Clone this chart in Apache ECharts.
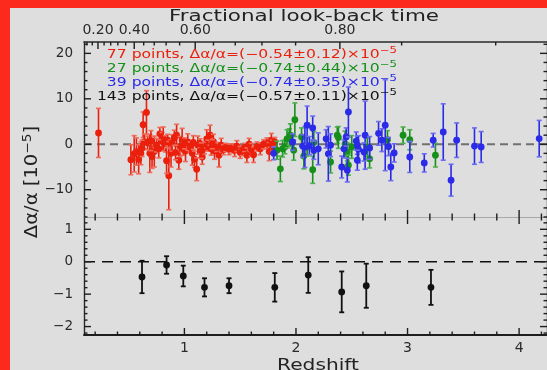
<!DOCTYPE html>
<html><head><meta charset="utf-8">
<script src="https://cdn.jsdelivr.net/npm/echarts@6/dist/echarts.min.js"></script>
<style>html,body{margin:0;padding:0;background:#dedede;}#c{width:547px;height:370px;}</style>
</head><body><div id="c"></div>
<script>
// ---- data: [redshift, Δα/α (1e-5), 1σ error] ----
const redData = [
 [0.23,2.5,5.4],[0.52,-3.4,3.3],[0.55,-2.1,4.0],[0.57,-1.6,3.0],[0.59,-3.3,3.2],[0.61,-2.0,2.5],
 [0.63,4.3,2.8],[0.66,7.0,4.8],[0.64,0.6,1.6],[0.67,0.3,1.5],[0.69,-2.0,4.2],[0.71,-2.7,2.6],
 [0.73,-1.6,3.4],[0.75,-0.2,1.5],[0.78,2.3,1.4],[0.80,0.6,2.0],[0.81,1.2,2.6],[0.83,0.1,1.8],
 [0.85,0.9,1.3],[0.86,-6.9,7.5],[0.88,-2.0,3.0],[0.89,0.3,1.8],[0.91,1.4,1.7],[0.93,2.0,2.4],
 [0.95,-3.5,2.0],[0.96,-0.5,2.2],[0.98,0.9,2.6],[0.99,-1.0,1.4],[1.01,-1.5,2.3],[1.03,0.5,1.8],
 [1.05,-0.6,1.1],[1.07,-2.0,2.6],[1.09,-3.3,1.8],[1.11,-5.5,2.5],[1.12,-0.2,2.0],[1.14,0.2,1.0],
 [1.16,-2.8,1.6],[1.18,-0.8,1.3],[1.20,1.2,2.0],[1.21,-0.3,1.2],[1.23,2.0,2.2],[1.24,-1.0,1.4],
 [1.26,0.6,1.6],[1.27,-1.5,1.8],[1.29,-0.6,1.0],[1.31,-2.4,2.6],[1.33,-0.2,1.5],[1.35,-1.2,1.1],
 [1.37,-0.7,0.9],[1.40,-1.1,1.2],[1.42,-0.9,1.0],[1.45,-1.3,1.4],[1.47,-0.4,1.2],[1.50,-1.8,1.3],
 [1.52,-1.4,1.1],[1.54,-0.7,0.9],[1.56,-2.4,1.6],[1.58,0.0,1.3],[1.60,-1.2,1.4],[1.62,-2.3,1.7],
 [1.65,-0.5,1.0],[1.68,-1.0,1.3],[1.71,0.0,1.0],[1.74,0.2,1.2],[1.76,-1.6,2.0],[1.78,0.9,1.5],
 [1.79,-0.3,1.2],[1.81,0.5,1.0],[0.62,-0.9,1.8],[0.70,0.8,2.2],[0.77,-1.0,2.0],[0.84,-3.6,2.8],
 [0.92,-1.8,1.6],[1.00,0.2,1.2],[1.08,0.4,1.5],[1.15,-1.4,1.7],[1.25,0.0,1.0]
];
const greenData = [
 [1.83,-1.3,2.0],[1.86,-5.4,2.8],[1.88,-1.0,1.8],[1.90,-0.6,1.5],[1.92,1.2,2.0],[1.94,1.6,1.8],
 [1.95,2.0,2.5],[1.99,5.4,3.7],[1.98,-1.3,2.2],[2.05,1.6,2.0],[2.07,-2.6,2.8],[2.10,-0.6,2.0],
 [2.15,-5.6,3.0],[2.16,0.4,2.4],[2.31,-3.9,2.4],[2.37,2.0,1.8],[2.38,1.5,2.4],[2.44,0.1,2.8],
 [2.46,-1.7,2.0],[2.47,-4.6,2.2],[2.50,-0.6,2.5],[2.64,-0.6,2.0],[2.66,-3.2,2.0],[2.82,1.0,2.0],
 [2.96,2.0,1.8],[3.02,1.0,2.2],[3.25,-2.4,2.6]
];
const blueData = [
 [1.80,-2.0,1.4],[1.97,0.5,1.8],[2.06,-0.4,2.5],[2.08,-0.6,4.5],[2.10,4.2,4.2],[2.12,-0.3,2.0],
 [2.15,3.6,2.6],[2.16,-1.3,2.0],[2.27,1.2,2.0],[2.29,-2.1,6.0],[2.31,-0.2,2.5],[2.41,-5.0,2.4],
 [2.43,-1.0,2.0],[2.45,1.6,2.0],[2.46,-5.7,2.6],[2.47,7.1,5.5],[2.54,0.7,2.0],[2.55,-0.2,2.0],
 [2.56,-1.1,3.0],[2.55,-3.5,2.2],[2.62,2.0,7.5],[2.61,-1.7,2.0],[2.74,2.4,2.6],[2.77,0.9,2.5],
 [2.80,4.2,10.0],[2.83,-0.5,2.0],[2.85,-5.0,3.0],[2.88,-1.9,2.0],[3.02,-2.8,3.4],[3.15,-4.1,2.0],
 [3.23,0.9,1.5],[3.32,2.7,6.2],[3.39,-7.9,3.5],[3.44,0.9,3.8],[3.60,-0.4,4.0],[3.66,-0.6,3.4],
 [4.18,1.25,4.0],[2.20,-1.0,3.5],[2.66,-0.8,2.5]
];
const binnedData = [
 [0.62,-0.47,0.5],[0.84,-0.10,0.27],[0.99,-0.44,0.32],[1.18,-0.79,0.28],[1.40,-0.74,0.23],
 [1.81,-0.79,0.44],[2.11,-0.41,0.55],[2.41,-0.93,0.63],[2.63,-0.74,0.68],[3.21,-0.79,0.54]
];
const legendLines = [
 {n:'77',  v:'−0.54±0.12', color:'#ea1f0c'},
 {n:'27',  v:'−0.74±0.44', color:'#16901a'},
 {n:'39',  v:'−0.74±0.35', color:'#2a2ae8'},
 {n:'143', v:'−0.57±0.11', color:'#111111'}
];
// ---- axes / ticks ----
const X_MIN = 0.1, X_MAX = 4.25;
const TOP_Y = [-16, 22.5], BOT_Y = [-2.26, 1.38];
const xMinorTicks = [0.2,0.4,0.6,0.8,1.2,1.4,1.6,1.8,2.2,2.4,2.6,2.8,3.2,3.4,3.6,3.8,4.2];
const xMajorTicks = [1,2,3,4];
const yTopMinor = [-16,-14,-12,-8,-6,-4,-2,2,4,6,8,12,14,16,18,22];
const yTopMajor = [-10,0,10,20];
const yBotMinor = [-2.2,-1.8,-1.6,-1.4,-1.2,-0.8,-0.6,-0.4,-0.2,0.2,0.4,0.6,0.8,1.2];
const yBotMajor = [-2,-1,0,1];
const lookbackMinor = [0.12,0.16,0.24,0.28,0.32,0.36,0.44,0.48,0.52,0.56,0.64,0.68,0.72,0.76,0.84,0.88];
const lookbackMajor = [0.20,0.40,0.60,0.80];
const lookbackLabels = ['0.20','0.40','0.60','0.80'];
const OM = 0.3, OL = 0.7;
function zFromLookback(f){
  const k = Math.sqrt(OL/OM);
  const A = Math.asinh(k)*(1-f);
  return Math.pow(Math.sinh(A)/k, -2/3) - 1;
}
const lbMinorZ = lookbackMinor.map(zFromLookback);
const lbMajorZ = lookbackMajor.map(zFromLookback);

const MINOR = 3.5, MAJOR = 7;
function ticks(code, vals, len){ return vals.map(v => [code, v, len]); }
const topTickData = [].concat(
  ticks(0,yTopMinor,MINOR), ticks(0,yTopMajor,MAJOR),
  ticks(1,yTopMinor,MINOR), ticks(1,yTopMajor,MAJOR),
  ticks(2,xMinorTicks,MINOR), ticks(2,xMajorTicks,MAJOR),
  ticks(3,lbMinorZ,MINOR), ticks(3,lbMajorZ,MAJOR));
const botTickData = [].concat(
  ticks(0,yBotMinor,MINOR), ticks(0,yBotMajor,MAJOR),
  ticks(1,yBotMinor,MINOR), ticks(1,yBotMajor,MAJOR),
  ticks(2,xMinorTicks,MINOR), ticks(2,xMajorTicks,MAJOR),
  ticks(3,xMinorTicks,MINOR), ticks(3,xMajorTicks,MAJOR));

function tickRenderer(yr){
  return function(params, api){
    const code = api.value(0), v = api.value(1), L = api.value(2);
    let p, s;
    if (code === 0){ p = api.coord([X_MIN, v]); s = {x1:p[0], y1:p[1], x2:p[0]+L, y2:p[1]}; }
    else if (code === 1){ p = api.coord([X_MAX, v]); s = {x1:p[0], y1:p[1], x2:p[0]-L, y2:p[1]}; }
    else if (code === 2){ p = api.coord([v, yr[0]]); s = {x1:p[0], y1:p[1], x2:p[0], y2:p[1]-L}; }
    else { p = api.coord([v, yr[1]]); s = {x1:p[0], y1:p[1], x2:p[0], y2:p[1]+L}; }
    return {type:'line', shape:s, style:{stroke:'#1e1e1e', lineWidth:1.4}};
  };
}
function errRenderer(color, capColor, r, lw){
  return function(params, api){
    const z = api.value(0), y = api.value(1), e = api.value(2);
    const c = api.coord([z,y]), t = api.coord([z,y+e]), b = api.coord([z,y-e]);
    const hw = 2.5;
    return {type:'group', children:[
      {type:'line', shape:{x1:c[0],y1:t[1],x2:c[0],y2:b[1]}, style:{stroke:color, lineWidth:lw}},
      {type:'line', shape:{x1:c[0]-hw,y1:t[1],x2:c[0]+hw,y2:t[1]}, style:{stroke:capColor, lineWidth:lw}},
      {type:'line', shape:{x1:c[0]-hw,y1:b[1],x2:c[0]+hw,y2:b[1]}, style:{stroke:capColor, lineWidth:lw}},
      {type:'circle', shape:{cx:c[0],cy:c[1],r:r}, style:{fill:color}}
    ]};
  };
}
const FONT = '"DejaVu Sans", sans-serif';
const minus = v => String(v).replace('-', '−');
function xAxis(grid, pos, lineColor, lineWidth, labels){
  return {type:'value', gridIndex:grid, position:pos, min:X_MIN, max:X_MAX,
    axisLine:{show:true, onZero:false, lineStyle:{color:lineColor, width:lineWidth}},
    axisTick:{show:false}, splitLine:{show:false}, minorTick:{show:false},
    axisLabel: labels ? Object.assign({show:true, fontSize:14, fontFamily:FONT, color:'#2a2a2a', hideOverlap:false}, labels) : {show:false}};
}
function yAxis(grid, pos, yr, labels){
  return {type:'value', gridIndex:grid, position:pos, min:yr[0], max:yr[1],
    axisLine:{show:true, onZero:false, lineStyle:{color:'#2a2a2a', width:1.4}},
    axisTick:{show:false}, splitLine:{show:false}, minorTick:{show:false},
    axisLabel: labels ? Object.assign({show:true, fontSize:13.5, fontFamily:FONT, color:'#2a2a2a', margin:11, formatter:minus}, labels) : {show:false}};
}
function legendText(L, i){
  const rich = {
    b:{fontSize:12, fontFamily:FONT, fill:L.color, lineHeight:18},
    s:{fontSize:9, fontFamily:FONT, fill:L.color, verticalAlign:'top', lineHeight:11}
  };
  return {type:'text', x:397, y:55 + i*14, scaleX:1.3, z:100,
    style:{text:'{b|' + L.n + ' points, Δα/α=(' + L.v + ')×10}{s|−5}', rich:rich,
      align:'right', verticalAlign:'middle'}};
}
const chart = echarts.init(document.getElementById('c'));
chart.setOption({
  backgroundColor:'#dedede',
  animation:false,
  grid:[
    {left:84, top:42, width:463, height:175, outerBoundsMode:'none'},
    {left:84, top:217, width:463, height:118, outerBoundsMode:'none'}
  ],
  xAxis:[
    xAxis(0,'bottom','#a8a8a8',1.2,null),
    xAxis(0,'top','#2a2a2a',1.6,{customValues:lbMajorZ, margin:5,
      formatter:v => { let best=0; lbMajorZ.forEach((z,i)=>{ if(Math.abs(z-v)<Math.abs(lbMajorZ[best]-v)) best=i; }); return lookbackLabels[best]; }}),
    xAxis(1,'bottom','#1e1e1e',2,{customValues:xMajorTicks, margin:6, formatter:v=>String(Math.round(v))}),
    xAxis(1,'top','#a8a8a8',1.2,null)
  ],
  yAxis:[
    yAxis(0,'left',TOP_Y,{customValues:yTopMajor}),
    yAxis(0,'right',TOP_Y,null),
    yAxis(1,'left',BOT_Y,{customValues:yBotMajor}),
    yAxis(1,'right',BOT_Y,null)
  ],
  series:[
    {type:'line', xAxisIndex:0, yAxisIndex:0, data:[[X_MIN,0],[X_MAX,0]], symbol:'none', silent:true, z:1,
      lineStyle:{color:'#707070', width:2, type:[8,5]}},
    {type:'line', xAxisIndex:2, yAxisIndex:2, data:[[X_MIN,0],[X_MAX,0]], symbol:'none', silent:true, z:1,
      lineStyle:{color:'#111', width:1.6, type:[11,7]}},
    {type:'custom', xAxisIndex:0, yAxisIndex:0, data:redData, renderItem:errRenderer('#ea1f0c','#f06a5a',3.4,1.6), z:3},
    {type:'custom', xAxisIndex:0, yAxisIndex:0, data:greenData, renderItem:errRenderer('#16901a','#4cb04c',3.4,1.6), z:4},
    {type:'custom', xAxisIndex:0, yAxisIndex:0, data:blueData, renderItem:errRenderer('#2a2ae8','#6c6cf0',3.4,1.6), z:5},
    {type:'custom', xAxisIndex:2, yAxisIndex:2, data:binnedData, renderItem:errRenderer('#111','#111',3.4,1.8), z:5},
    {type:'custom', xAxisIndex:0, yAxisIndex:0, data:topTickData, renderItem:tickRenderer(TOP_Y), silent:true, z:6},
    {type:'custom', xAxisIndex:2, yAxisIndex:2, data:botTickData, renderItem:tickRenderer(BOT_Y), silent:true, z:6}
  ],
  graphic:[
    {type:'rect', shape:{x:0,y:0,width:10,height:370}, style:{fill:'#fc2a1c'}, z:200},
    {type:'rect', shape:{x:0,y:0,width:547,height:8}, style:{fill:'#fc2a1c'}, z:200},
    {type:'text', x:304, y:16.5, scaleX:1.34, z:100,
      style:{text:'Fractional look-back time', fontSize:16, fontFamily:FONT, fill:'#222', align:'center', verticalAlign:'middle'}},
    {type:'text', x:318, y:366, scaleX:1.26, z:100,
      style:{text:'Redshift', fontSize:16, fontFamily:FONT, fill:'#222', align:'center', verticalAlign:'middle'}},
    {type:'text', x:33, y:182, rotation:Math.PI/2, scaleX:1.15, z:100,
      style:{text:'{b|Δα/α [10}{s|−5}{b|]}', align:'center', verticalAlign:'middle',
        rich:{b:{fontSize:17, fontFamily:FONT, fill:'#222', lineHeight:22}, s:{fontSize:12, fontFamily:FONT, fill:'#222', verticalAlign:'top', lineHeight:13}}}}
  ].concat(legendLines.map(legendText))
});
</script></body></html>
